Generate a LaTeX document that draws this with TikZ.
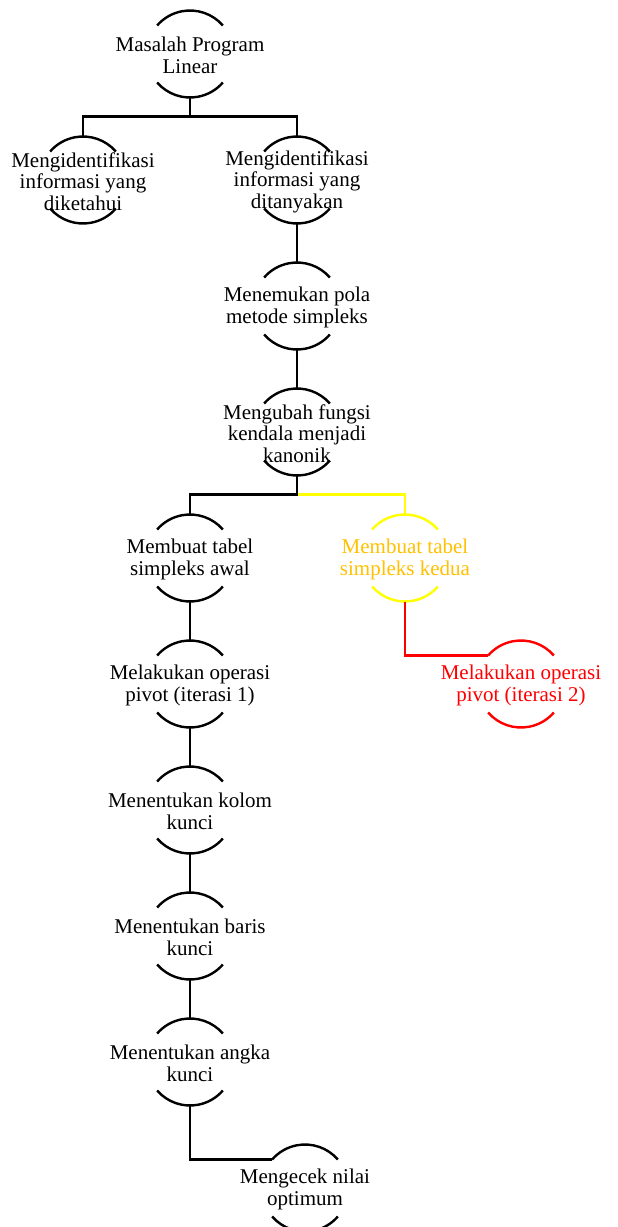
\documentclass[tikz,border=0pt]{standalone}
\usepackage{fontspec}
\setmainfont{Liberation Serif}
\usetikzlibrary{calc}
\definecolor{gold}{HTML}{FFC000}
\definecolor{yel}{HTML}{FFFF00}
\definecolor{rd}{HTML}{FF0000}
\newcommand\arcpair[2]{%
  \draw[arcline,#2] ([shift={(41:43.5pt)}]#1.center) arc[start angle=41,end angle=139,radius=43.5pt];
  \draw[arcline,#2] ([shift={(221:43.5pt)}]#1.center) arc[start angle=221,end angle=319,radius=43.5pt];}
\begin{document}
\begin{tikzpicture}[x=1pt,y=1pt,
  txt/.style={align=center,font=\fontsize{21}{21.5}\selectfont,inner sep=0pt},
  arcline/.style={line width=2.4pt},
  conn/.style={line width=2.4pt}]
\useasboundingbox (0,0) rectangle (618,-1227);
\node[txt] (n1) at (190,-55.5) {Masalah Program\\Linear};
\node[txt] (n2) at (83,-181.5) {Mengidentifikasi\\informasi yang\\diketahui};
\node[txt] (n3) at (297,-181.5) {Mengidentifikasi\\informasi yang\\ditanyakan};
\node[txt] (n4) at (297,-307.5) {Menemukan pola\\metode simpleks};
\node[txt] (n5) at (297,-433.5) {Mengubah fungsi\\kendala menjadi\\kanonik};
\node[txt] (n6) at (190,-559.5) {Membuat tabel\\simpleks awal};
\node[txt,text=gold] (n7) at (405,-559.5) {Membuat tabel\\simpleks kedua};
\node[txt] (n8) at (190,-685.5) {Melakukan operasi\\pivot (iterasi 1)};
\node[txt,text=rd] (n9) at (521,-685.5) {Melakukan operasi\\pivot (iterasi 2)};
\node[txt] (n10) at (190,-811.5) {Menentukan kolom\\kunci};
\node[txt] (n11) at (190,-937.5) {Menentukan baris\\kunci};
\node[txt] (n12) at (190,-1063.5) {Menentukan angka\\kunci};
\node[txt] (n13) at (305,-1189.5) {Mengecek nilai\\optimum};
% arc centres (circle centres are 1.5pt above the text centres)
\foreach \n in {n1,n2,n3,n4,n5,n6,n7,n8,n9,n10,n11,n12,n13}
  \coordinate (\n c) at ($(\n.center)+(0,1.5)$);
\arcpair{n1c}{black}
\arcpair{n2c}{black}
\arcpair{n3c}{black}
\arcpair{n4c}{black}
\arcpair{n5c}{black}
\arcpair{n6c}{black}
\arcpair{n7c}{yel}
\arcpair{n8c}{black}
\arcpair{n9c}{rd}
\arcpair{n10c}{black}
\arcpair{n11c}{black}
\arcpair{n12c}{black}
\arcpair{n13c}{black}
% connectors
\draw[conn] ($(n1c)+(0,-43.5)$) -- ++(0,-19) -| ($(n2c)+(0,43.5)$);
\draw[conn] ($(n1c)+(0,-43.5)$) -- ++(0,-19) -| ($(n3c)+(0,43.5)$);
\draw[conn] ($(n3c)+(0,-43.5)$) -- ($(n4c)+(0,43.5)$);
\draw[conn] ($(n4c)+(0,-43.5)$) -- ($(n5c)+(0,43.5)$);
\draw[conn,yel] ($(n5c)+(0,-62.5)$) -| ($(n7c)+(0,43.5)$);
\draw[conn] ($(n5c)+(0,-43.5)$) -- ++(0,-19) -| ($(n6c)+(0,43.5)$);
\draw[conn] ($(n6c)+(0,-43.5)$) -- ($(n8c)+(0,43.5)$);
\draw[conn,rd] ($(n7c)+(0,-43.5)$) |- ($(n9c)+(139:43.5pt)$);
\draw[conn] ($(n8c)+(0,-43.5)$) -- ($(n10c)+(0,43.5)$);
\draw[conn] ($(n10c)+(0,-43.5)$) -- ($(n11c)+(0,43.5)$);
\draw[conn] ($(n11c)+(0,-43.5)$) -- ($(n12c)+(0,43.5)$);
\draw[conn] ($(n12c)+(0,-43.5)$) |- ($(n13c)+(139:43.5pt)$);
\end{tikzpicture}
\end{document}
